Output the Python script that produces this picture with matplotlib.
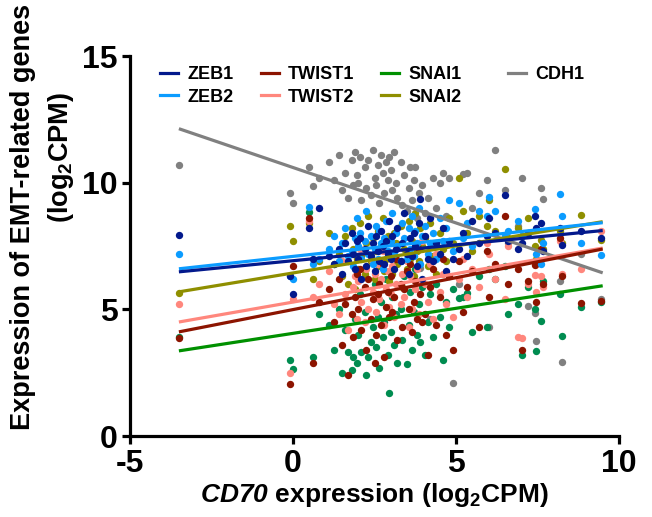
import matplotlib
matplotlib.use("Agg")
import matplotlib.pyplot as plt
from matplotlib.lines import Line2D

plt.rcParams['font.family'] = ['Liberation Sans', 'DejaVu Sans']
plt.rcParams['font.weight'] = 'bold'
plt.rcParams['axes.labelweight'] = 'bold'
plt.rcParams['axes.unicode_minus'] = False
plt.rcParams['mathtext.fontset'] = 'custom'
plt.rcParams['mathtext.rm'] = 'Liberation Sans:bold'
plt.rcParams['mathtext.bf'] = 'Liberation Sans:bold'
plt.rcParams['mathtext.it'] = 'Liberation Sans:italic:bold'
plt.rcParams['mathtext.sf'] = 'Liberation Sans:italic:bold'

# CD70 expression per sample (log2CPM)
cd70 = [-3.5, -0.1, 0.0, 0.5, 0.6, 0.8, 1.1, 1.25, 1.4, 1.5,
        1.6, 1.7, 1.8, 1.85, 1.9, 1.95, 2.0, 2.05, 2.1, 2.2,
        2.25, 2.3, 2.4, 2.45, 2.5, 2.55, 2.6, 2.65, 2.7, 2.75,
        2.8, 2.85, 2.9, 2.95, 3.0, 3.05, 3.1, 3.15, 3.2, 3.3,
        3.35, 3.4, 3.5, 3.55, 3.6, 3.65, 3.7, 3.75, 3.8, 3.85,
        3.9, 3.95, 4.05, 4.15, 4.2, 4.3, 4.4, 4.5, 4.6, 4.7,
        4.8, 4.9, 5.1, 5.2, 5.35, 5.5, 5.7, 5.95, 6.0, 6.2,
        6.5, 6.6, 6.9, 7.03, 7.2, 7.42, 7.45, 7.6, 7.67, 8.2,
        8.25, 8.83, 9.45]

zeb1 = [7.95, 6.3, 5.6, 8.2, 7.0, 9.0, 7.1, 6.8, 7.4, 6.4,
        7.6, 6.9, 8.0, 7.2, 6.6, 7.7, 7.0, 7.8, 6.2, 7.4,
        6.7, 8.3, 7.1, 7.6, 6.5, 7.9, 7.3, 6.9, 8.1, 7.5,
        6.8, 7.7, 7.2, 8.5, 7.0, 7.9, 6.6, 7.4, 8.2, 6.9,
        7.6, 8.8, 7.2, 6.4, 7.8, 7.1, 8.0, 7.5, 6.7, 8.4,
        9.37, 6.2, 7.9, 7.0, 8.6, 6.9, 7.6, 7.2, 8.2, 6.5,
        7.7, 7.0, 7.4, 8.0, 7.1, 8.5, 7.6, 7.9, 8.6, 8.0,
        9.5, 7.7, 7.4, 7.6, 8.0, 8.7, 8.2, 8.4, 7.3, 8.2,
        7.55, 8.1, 7.8]

zeb2 = [7.2, 6.3, 6.2, 9.05, 6.8, 7.0, 7.4, 7.9, 6.9, 7.6,
        8.2, 7.1, 7.3, 6.7, 7.8, 8.6, 7.5, 8.0, 7.0, 7.7,
        8.9, 7.2, 7.9, 6.8, 7.4, 8.3, 7.0, 8.1, 7.6, 6.6,
        7.8, 8.5, 7.3, 7.1, 7.7, 8.8, 7.2, 8.0, 7.5, 6.9,
        8.4, 7.8, 7.0, 8.2, 7.4, 8.7, 7.1, 8.1, 7.6, 9.0,
        6.8, 7.9, 8.3, 7.2, 7.6, 8.0, 7.0, 8.6, 7.7, 8.2,
        9.3, 7.3, 9.2, 7.8, 8.4, 7.5, 8.9, 8.7, 9.45, 8.9,
        7.9, 8.1, 8.5, 7.9, 8.0, 8.97, 7.2, 6.8, 7.6, 9.57,
        8.7, 7.6, 7.15]

twist1 = [3.85, 2.05, 6.7, 8.6, 2.9, 5.3, 5.8, 4.5, 6.2, 3.6,
          5.2, 2.4, 4.8, 3.9, 5.5, 6.4, 5.0, 6.6, 4.2, 5.9,
          3.4, 6.2, 4.6, 5.4, 2.9, 4.0, 5.6, 6.0, 4.4, 6.8,
          3.1, 5.1, 5.7, 4.7, 6.3, 4.9, 5.5, 7.0, 3.8, 6.0,
          4.3, 5.8, 6.5, 5.0, 6.8, 4.1, 5.3, 6.1, 4.6, 7.4,
          5.6, 4.5, 4.8, 3.2, 5.9, 6.6, 4.4, 5.5, 7.0, 4.0,
          6.3, 3.4, 6.9, 4.9, 5.9, 6.5, 4.3, 7.3, 5.5, 6.8,
          8.7, 6.0, 6.6, 3.4, 6.1, 6.75, 5.3, 7.4, 6.0, 7.8,
          6.3, 5.26, 5.33]

twist2 = [5.2, 2.5, 5.4, 8.5, 5.5, 6.0, 6.5, 5.2, 4.8, 6.9,
          5.6, 4.2, 7.2, 5.9, 6.3, 4.6, 6.1, 7.4, 5.3, 4.5,
          6.6, 5.0, 7.0, 5.7, 6.4, 4.9, 6.8, 5.4, 6.2, 7.3,
          4.4, 5.8, 6.5, 5.1, 5.6, 6.7, 4.7, 6.0, 7.5, 5.2,
          6.4, 5.5, 6.9, 4.3, 6.3, 5.0, 7.1, 5.8, 6.6, 4.8,
          6.1, 7.7, 6.0, 5.3, 6.8, 4.6, 7.2, 5.7, 6.4, 5.2,
          7.6, 4.7, 6.2, 7.0, 5.5, 6.6, 5.9, 7.6, 7.2, 6.2,
          5.4, 7.5, 3.9, 3.87, 6.0, 6.35, 5.7, 6.3, 5.9, 7.7,
          6.4, 6.6, 8.1]

snai1 = [3.9, 3.0, 2.65, 8.85, 3.1, 4.8, 4.4, 3.4, 5.0, 2.5,
         4.2, 3.3, 2.6, 3.1, 4.6, 2.9, 4.0, 5.6, 3.3, 4.9,
         2.4, 3.1, 3.7, 4.3, 6.0, 3.5, 4.7, 2.7, 5.3, 3.9,
         4.5, 6.2, 3.2, 1.7, 4.1, 5.5, 3.6, 4.8, 2.9, 5.0,
         3.8, 6.3, 2.85, 4.4, 5.7, 3.4, 4.9, 6.6, 4.0, 5.2,
         3.7, 5.9, 3.2, 4.5, 5.6, 3.9, 6.0, 4.7, 3.0, 5.3,
         4.3, 5.8, 5.45, 5.5, 5.65, 4.1, 6.3, 4.3, 6.6, 6.2,
         6.7, 4.8, 5.2, 3.2, 5.9, 5.0, 3.36, 4.55, 6.1, 5.6,
         3.95, 5.1, 5.3]

snai2 = [5.65, 8.3, 7.7, 8.4, 6.2, 6.9, 8.0, 6.8, 7.2, 6.3,
         7.9, 6.0, 8.2, 7.4, 5.8, 7.0, 6.6, 8.4, 7.1, 6.4,
         7.6, 8.7, 6.9, 7.8, 6.2, 7.3, 8.1, 6.7, 7.5, 8.6,
         6.5, 7.0, 7.9, 6.1, 7.2, 6.4, 8.0, 7.6, 6.8, 8.3,
         5.9, 7.4, 6.6, 8.5, 7.0, 7.7, 6.3, 8.8, 7.3, 6.9,
         8.2, 7.5, 7.8, 6.7, 8.4, 7.1, 6.4, 8.0, 7.4, 6.9,
         8.6, 7.6, 10.2, 8.9, 8.0, 7.3, 8.7, 8.3, 9.3, 8.1,
         10.55, 7.8, 8.2, 7.9, 8.6, 7.5, 7.0, 7.75, 7.4, 8.1,
         7.6, 8.74, 7.75]

cdh1 = [10.7, 9.6, 9.2, 10.6, 9.85, 10.2, 10.8, 10.1, 11.1, 9.7,
        10.4, 9.4, 10.9, 9.9, 11.2, 10.3, 10.0, 11.0, 9.3, 10.6,
        9.8, 10.9, 9.5, 11.3, 10.2, 9.9, 10.7, 9.2, 11.1, 10.4,
        9.6, 10.8, 10.1, 11.0, 10.5, 9.7, 11.2, 10.0, 9.4, 10.8,
        9.1, 10.3, 8.9, 9.8, 10.6, 9.3, 10.1, 10.6, 8.6, 9.6,
        6.64, 9.9, 8.8, 9.4, 4.6, 10.2, 9.0, 10.0, 10.4, 8.7,
        10.2, 2.1, 6.0, 10.35, 10.4, 9.0, 9.6, 10.1, 4.3, 11.27,
        9.7, 7.6, 8.3, 10.2, 5.14, 4.86, 3.75, 9.8, 9.37, 6.1,
        2.92, 7.2, 5.4]

# regression line values read at the ends of the fit range
fit_x = [-3.5, 9.5]
zeb1_fit = [6.48, 8.11]
zeb2_fit = [6.6, 8.42]
twist1_fit = [4.11, 7.38]
twist2_fit = [4.5, 7.42]
snai1_fit = [3.36, 5.93]
snai2_fit = [5.69, 8.46]
cdh1_fit = [12.13, 6.44]

labels = ["ZEB1", "ZEB2", "TWIST1", "TWIST2", "SNAI1", "SNAI2", "CDH1"]
values = [zeb1, zeb2, twist1, twist2, snai1, snai2, cdh1]
fits = [zeb1_fit, zeb2_fit, twist1_fit, twist2_fit, snai1_fit, snai2_fit, cdh1_fit]
dot_colors = ["#03198c", "#0b9cff", "#8c1400", "#ff877d", "#008c50", "#8f8f00", "#808080"]
line_colors = ["#03198c", "#0b9cff", "#8c1400", "#ff877d", "#009000", "#8f8f00", "#808080"]

fig = plt.figure(figsize=(6.52, 5.17), dpi=100)
ax = fig.add_axes([130/652, 1-436/517, 489/652, 380/517])

draw_order = [6, 4, 5, 3, 2, 1, 0]
for i in draw_order:
    ax.scatter(cd70, values[i], s=28, color=dot_colors[i], linewidths=0, zorder=2)
for i in draw_order:
    ax.plot(fit_x, fits[i], color=line_colors[i], lw=2.3, zorder=3, solid_capstyle='butt')

ax.set_xlim(-5, 10)
ax.set_ylim(0, 15)
ax.set_xticks([-5, 0, 5, 10])
ax.set_yticks([0, 5, 10, 15])
for s in ['top', 'right']:
    ax.spines[s].set_visible(False)
for s in ['left', 'bottom']:
    ax.spines[s].set_linewidth(2.3)
ax.tick_params(width=2.3, length=6, labelsize=23, pad=3)

ax.set_xlabel(r"$\mathsf{CD70}$ expression (log$_2$CPM)", fontsize=19,
              fontweight='bold', labelpad=2)
fig.text(23/652, 1-217/517, "Expression of EMT-related genes", rotation=90,
         ha='center', va='center', fontsize=19.5, fontweight='bold')
fig.text(61/652, 1-157/517, "(log$_2$CPM)", rotation=90,
         ha='center', va='center', fontsize=19.5, fontweight='bold')

handles = [Line2D([], [], color=line_colors[i], lw=2.3) for i in range(7)]
leg_kw = dict(frameon=False, prop={'size': 13, 'weight': 'bold'}, handlelength=1.0,
              handletextpad=0.5, columnspacing=1.5, labelspacing=0.3)
fig.legend(handles[:6], labels[:6], ncol=3, loc='upper left',
           bbox_to_anchor=(144/652, 1-50/517), **leg_kw)
fig.legend(handles[6:], labels[6:], ncol=1, loc='upper left',
           bbox_to_anchor=(492/652, 1-50/517), **leg_kw)

fig.savefig("out.png", dpi=100)
